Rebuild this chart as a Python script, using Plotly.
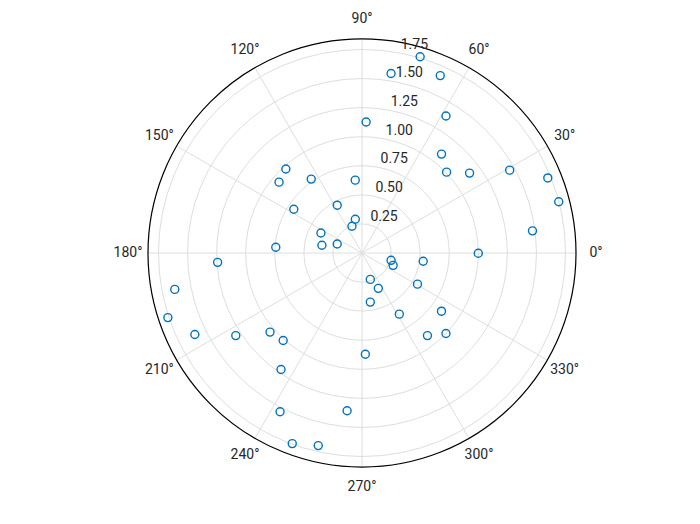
import plotly.graph_objects as go

# Data (radius, angle in degrees)
r_vals = [1.760, 1.563, 1.667, 1.382, 1.127, 1.091, 1.006, 1.152, 1.456, 1.723,
          1.748, 1.478, 1.000, 0.629, 0.296, 0.246, 0.975, 0.938, 0.771, 0.697,
          0.463, 0.393, 0.351, 0.227, 0.743, 1.244, 1.640, 1.759, 1.599, 1.297,
          1.043, 1.013, 1.220, 0.871, 1.536, 1.362, 1.745, 1.698, 0.258, 0.288,
          0.531, 0.238, 0.335, 0.428, 0.547, 0.616, 0.847, 0.906, 1.000]
theta_vals = [73.5, 80.8, 66.2, 58.5, 88.2, 51.2, 43.7, 36.6, 29.3, 22.0,
              14.6, 7.4, 359.85, 95.3, 101.2, 110.5, 132.2, 139.5, 124.5, 147.3,
              117.4, 154.0, 169.1, 160.0, 176.2, 183.7, 191.0, 198.4, 206.0, 213.2,
              220.7, 228.0, 235.2, 271.9, 242.7, 264.6, 249.9, 257.2, 345.9, 338.4,
              352.3, 287.5, 294.8, 279.6, 330.7, 301.4, 323.8, 308.4, 316.2]

r_ticks = [0.25, 0.50, 0.75, 1.00, 1.25, 1.50, 1.75]
r_tick_labels = ["0.25", "0.50", "0.75", "1.00", "1.25", "1.50", "1.75"]
theta_ticks = list(range(0, 360, 30))
theta_tick_labels = [f"{t}°" for t in theta_ticks]
r_max = 1.84

FONT = "Roboto"
TXT = "#262626"
grid_col = "#dedede"

# layout geometry (pixels in the 700x524 figure)
W, H = 700, 524
CX, CY = 354, 279          # circle centre (x from left, y from bottom)
R_PLOT = 214               # outer circle radius
R_LABEL_DOM = 240          # radius of the overlay that holds the angle labels
LABEL_FRAC = 234 / R_LABEL_DOM


def dom(cx, cy, rad):
    return dict(x=[(cx - rad) / W, (cx + rad) / W], y=[(cy - rad) / H, (cy + rad) / H])


fig = go.Figure()
fig.add_trace(go.Scatterpolar(
    r=r_vals, theta=theta_vals, mode="markers",
    marker=dict(symbol="circle-open", size=8, color="#0072BD",
                line=dict(width=1.4, color="#0072BD")),
    showlegend=False, subplot="polar",
))
# invisible trace anchoring the overlay subplot that carries the radial labels
fig.add_trace(go.Scatterpolar(
    r=[0], theta=[0], mode="markers", marker=dict(opacity=0),
    showlegend=False, hoverinfo="skip", subplot="polar2",
))
# angular tick labels, centred on a circle just outside the plot
label_range = r_max * R_LABEL_DOM / R_PLOT
fig.add_trace(go.Scatterpolar(
    r=[label_range * LABEL_FRAC] * len(theta_ticks), theta=theta_ticks, mode="text",
    text=theta_tick_labels, textposition="middle center",
    textfont=dict(family=FONT, size=14, color=TXT),
    cliponaxis=False, showlegend=False, hoverinfo="skip", subplot="polar3",
))

fig.update_layout(
    width=W, height=H,
    margin=dict(l=0, r=0, t=0, b=0),
    paper_bgcolor="white",
    font=dict(family=FONT, size=14, color=TXT),
    polar=dict(
        domain=dom(CX, CY, R_PLOT),
        bgcolor="white",
        radialaxis=dict(
            range=[0, r_max], tickvals=r_ticks, showticklabels=False,
            angle=80, showline=False, ticks="",
            gridcolor=grid_col, gridwidth=1,
        ),
        angularaxis=dict(
            direction="counterclockwise", rotation=0,
            tickvals=theta_ticks, showticklabels=False,
            showline=True, linecolor="#000000", linewidth=1.2,
            ticks="", gridcolor=grid_col, gridwidth=1,
        ),
    ),
    polar2=dict(
        domain=dom(CX - 4, CY + 12, R_PLOT),
        bgcolor="rgba(0,0,0,0)",
        radialaxis=dict(
            range=[0, r_max], tickvals=r_ticks, ticktext=r_tick_labels,
            angle=80, side="clockwise", showline=False, ticks="",
            showgrid=False, tickangle=80,
            tickfont=dict(family=FONT, size=14, color=TXT),
        ),
        angularaxis=dict(visible=False, showgrid=False, showline=False),
    ),
    polar3=dict(
        domain=dom(CX, CY, R_LABEL_DOM),
        bgcolor="rgba(0,0,0,0)",
        radialaxis=dict(range=[0, label_range], visible=False, showgrid=False),
        angularaxis=dict(visible=False, showgrid=False, showline=False,
                         direction="counterclockwise", rotation=0),
    ),
)

fig.write_html("out.html")
